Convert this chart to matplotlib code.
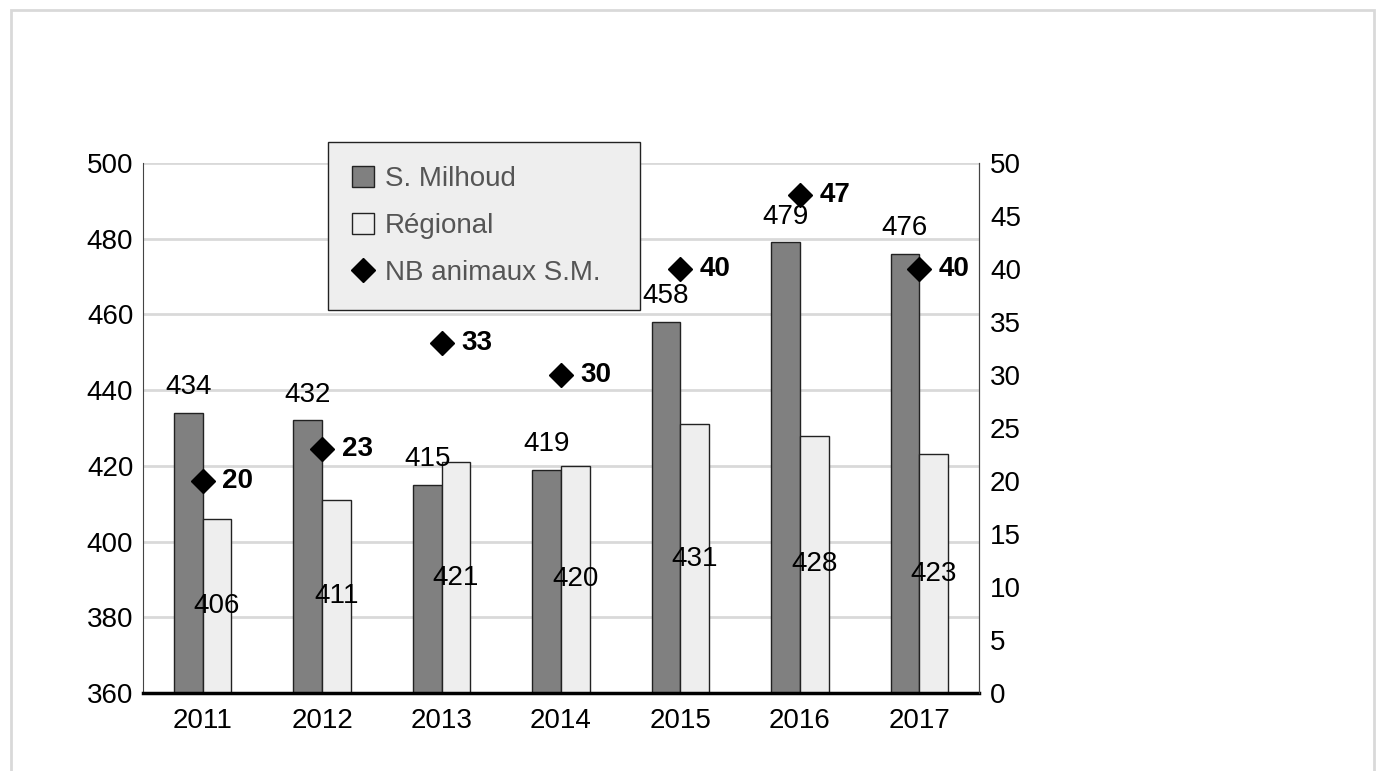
import matplotlib
matplotlib.use("Agg")
import matplotlib.pyplot as plt
import numpy as np
from matplotlib.patches import Rectangle

years = ['2011', '2012', '2013', '2014', '2015', '2016', '2017']
milhoud = [434, 432, 415, 419, 458, 479, 476]
regional = [406, 411, 421, 420, 431, 428, 423]
nb_animaux = [20, 23, 33, 30, 40, 47, 40]

plt.rcParams['font.family'] = ['Liberation Sans Narrow', 'Liberation Sans', 'DejaVu Sans']
fs = 20

fig = plt.figure(figsize=(13.84, 7.71), dpi=100)
fig.patches.append(Rectangle((11 / 1384, -0.05), 1363 / 1384, (771 - 10) / 771 + 0.05,
                             transform=fig.transFigure, fill=False,
                             edgecolor='#d9d9d9', lw=2, zorder=0))

ax = fig.add_axes([143 / 1384, 78 / 771, 836 / 1384, 530 / 771])
x = np.arange(len(years))
w = 0.24

b1 = ax.bar(x - w / 2, milhoud, w, color='#808080', edgecolor='#222222', lw=1,
            label='S. Milhoud', zorder=3)
b2 = ax.bar(x + w / 2, regional, w, color='#eeeeee', edgecolor='#222222', lw=1,
            label='Régional', zorder=3)
ax.bar_label(b1, padding=9, fontsize=fs)
ax.bar_label(b2, label_type='center', fontsize=fs)

ax.set_xlim(-0.5, len(years) - 0.5)
ax.set_ylim(360, 500)
ax.set_yticks(np.arange(360, 501, 20))
ax.set_xticks(x)
ax.set_xticklabels(years)
ax.grid(axis='y', color='#d9d9d9', lw=2, zorder=0)
ax.tick_params(length=0, labelsize=fs)
ax.tick_params(axis='x', pad=11)
ax.tick_params(axis='y', pad=7)
ax.spines['top'].set_visible(False)
ax.spines['left'].set_color('#444444')
ax.spines['right'].set_color('#444444')
ax.spines['bottom'].set_linewidth(2.5)
ax.spines['bottom'].set_zorder(5)

ax2 = ax.twinx()
ax2.set_ylim(0, 50)
ax2.set_yticks(np.arange(0, 51, 5))
ax2.tick_params(length=0, labelsize=fs, pad=8)
for s in ['top', 'left', 'bottom']:
    ax2.spines[s].set_visible(False)
ax2.spines['right'].set_color('#444444')
ln, = ax2.plot(x, nb_animaux, linestyle='none', marker='D', ms=12, color='black',
               label='NB animaux S.M.', zorder=4)
for xi, v in zip(x, nb_animaux):
    ax2.annotate(str(v), (xi, v), xytext=(14, 0), textcoords='offset points',
                 va='center', ha='left', fontsize=fs, fontweight='bold')

leg = fig.legend([b1, b2, ln], ['S. Milhoud', 'Régional', 'NB animaux S.M.'],
                 loc='upper left',
                 bbox_to_anchor=(328 / 1384, 1 - 309 / 771, 312 / 1384, 167 / 771),
                 mode='expand', fontsize=fs, frameon=True, fancybox=False,
                 borderpad=0.85, handlelength=0.8, handleheight=0.8,
                 handletextpad=0.4, labelspacing=0.75, borderaxespad=0,
                 markerscale=1.0)
leg.get_frame().set_facecolor('#eeeeee')
leg.get_frame().set_edgecolor('#222222')
leg.get_frame().set_alpha(1)
for t in leg.get_texts():
    t.set_color('#555555')

fig.savefig('out.png', dpi=100)
